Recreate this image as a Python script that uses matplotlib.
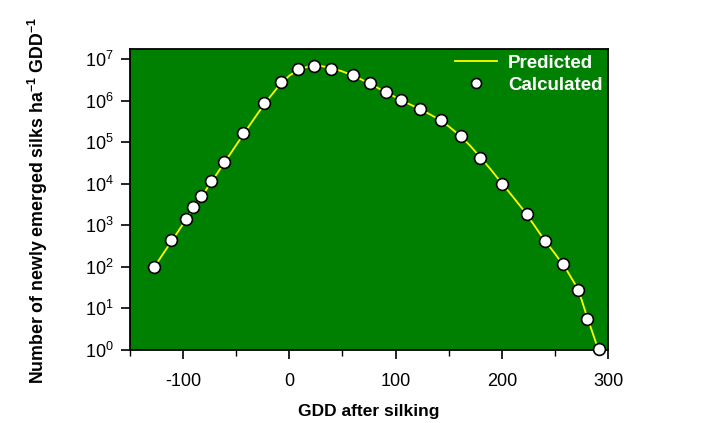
import matplotlib
matplotlib.use("Agg")
import matplotlib.pyplot as plt
from matplotlib.ticker import FixedLocator, LogLocator, NullLocator, NullFormatter

plt.rcParams['font.family'] = ['Liberation Sans', 'DejaVu Sans']
plt.rcParams['mathtext.fontset'] = 'custom'
plt.rcParams['mathtext.rm'] = 'Liberation Sans'
plt.rcParams['mathtext.bf'] = 'Liberation Sans:bold'
plt.rcParams['axes.unicode_minus'] = False

# Calculated (observed) values: GDD after silking, log10(silks per ha per GDD)
calc_gdd = [-127.1, -111.3, -97.2, -90.3, -83.0, -73.3, -61.6, -43.4, -24.2, -8.2,
            7.8, 23.6, 39.3, 59.7, 76.4, 90.6, 105.4, 122.9, 142.5, 161.3,
            179.5, 200.3, 223.3, 240.6, 257.8, 271.7, 280.2, 291.2]
calc_log = [2.00, 2.64, 3.15, 3.45, 3.70, 4.06, 4.52, 5.21, 5.95, 6.45,
            6.76, 6.84, 6.75, 6.62, 6.43, 6.21, 6.01, 5.79, 5.53, 5.14,
            4.63, 4.00, 3.27, 2.61, 2.06, 1.45, 0.75, 0.02]

# Predicted curve: GDD after silking, log10(silks per ha per GDD)
pred_gdd = [-127, -120, -110, -100, -90, -80, -70, -60, -50, -40, -30, -20, -10,
            0, 10, 20, 30, 40, 50, 60, 70, 80, 90, 100, 110, 120, 130, 140,
            150, 160, 170, 180, 190, 200, 210, 220, 230, 240, 250, 260, 270,
            275, 280, 285, 291]
pred_log = [2.00, 2.27, 2.65, 3.03, 3.41, 3.79, 4.17, 4.55, 4.93, 5.31, 5.68, 6.03, 6.35,
            6.60, 6.76, 6.83, 6.83, 6.78, 6.70, 6.60, 6.48, 6.35, 6.21, 6.08, 5.95, 5.83, 5.70, 5.56,
            5.38, 5.17, 4.92, 4.63, 4.33, 4.01, 3.70, 3.38, 3.02, 2.65, 2.32, 1.97, 1.54,
            1.22, 0.82, 0.45, 0.0]

x_ticks = [-100, 0, 100, 200, 300]
x_minor = [-150, -50, 50, 150, 250]

calc_vals = [10 ** v for v in calc_log]
pred_vals = [10 ** v for v in pred_log]

fig = plt.figure(figsize=(7.24, 4.23), dpi=100)
ax = fig.add_axes([130/724, 1-350/423, 478/724, 301/423])
ax.set_facecolor('#008000')

ax.plot(pred_gdd, pred_vals, color='#FFFF00', lw=1.3, label='Predicted', zorder=2)
ax.plot(calc_gdd, calc_vals, linestyle='none', marker='o', ms=8.5, mfc='white',
        mec='black', mew=1.2, label='Calculated', zorder=3, clip_on=False)

ax.set_yscale('log')
ax.set_xlim(-150, 300)
ax.set_ylim(1, 10 ** 7.24)
ax.xaxis.set_major_locator(FixedLocator(x_ticks))
ax.xaxis.set_minor_locator(FixedLocator(x_minor))
ax.yaxis.set_major_locator(LogLocator(base=10, numticks=20))
ax.yaxis.set_minor_locator(NullLocator())
ax.yaxis.set_minor_formatter(NullFormatter())

ax.tick_params(axis='both', which='major', direction='out', length=6.5, width=1.2,
               labelsize=13, top=False, right=False)
ax.tick_params(axis='x', which='major', pad=10)
ax.tick_params(axis='y', which='major', pad=5)
ax.tick_params(axis='x', which='minor', direction='out', length=4, width=1.0, top=False)
for s in ax.spines.values():
    s.set_linewidth(1.3)

ax.set_xlabel('GDD after silking', fontsize=12.5, fontweight='bold')
ax.xaxis.set_label_coords(0.5, -0.18)
ax.set_ylabel(r'Number of newly emerged silks ha$^{\mathbf{-1}}$ GDD$^{\mathbf{-1}}$',
              fontsize=12.8, fontweight='bold')
ax.yaxis.set_label_coords(-0.167, 0.498)

leg = ax.legend(loc='upper right', frameon=False, fontsize=13.5, handlelength=2.2,
                borderaxespad=0.1, labelspacing=0.25, handletextpad=0.6, borderpad=0.2,
                markerscale=0.85)
for t in leg.get_texts():
    t.set_color('white')
    t.set_fontweight('bold')

fig.savefig('out.png', dpi=100)
